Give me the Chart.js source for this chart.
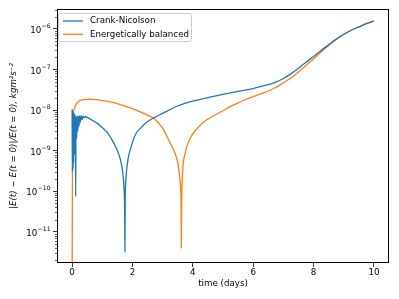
<!DOCTYPE html>
<html>
<head>
<meta charset="utf-8">
<script src="https://cdn.jsdelivr.net/npm/chart.js@4.4.1/dist/chart.umd.min.js"></script>
<style>
  html, body { margin: 0; padding: 0; background: #fff; }
  #wrap { width: 399px; height: 299px; }
</style>
</head>
<body>
<div id="wrap"><canvas id="chartEnergy"></canvas></div>
<script>
// series labels
const seriesNames = ["Crank-Nicolson", "Energetically balanced"];

// Crank-Nicolson: time (days) and relative energy error
const cnTime = [0.0, 0.01, 0.02, 0.03, 0.04, 0.05, 0.06, 0.07, 0.08, 0.09, 0.10, 0.11, 0.12, 0.13,
    0.15, 0.17, 0.19, 0.21, 0.23, 0.25, 0.27, 0.30, 0.33, 0.36, 0.40, 0.45, 0.5, 0.6, 0.8, 1.0,
    1.2, 1.4, 1.55, 1.65, 1.72, 1.74, 1.75, 1.76, 1.78, 1.85, 1.95, 2.1, 2.3, 2.5, 2.7, 3.0, 3.5, 4.0, 4.5,
    5.0, 5.5, 6.0, 6.25, 6.5, 6.75, 7.0, 7.25, 7.5, 7.75, 8.0, 8.25, 8.5, 8.75, 9.0, 9.25, 9.5, 9.75, 10.0];
const cnError = [1.05e-8, 3e-10, 1.0e-8, 3.5e-10, 9e-9, 5e-10, 8.5e-9, 8e-10, 8e-9, 1.2e-9, 7.5e-9, 2e-9, 7.4e-11, 7e-9,
    2e-9, 7.2e-9, 3e-9, 7e-9, 4e-9, 7.2e-9, 5e-9, 7.3e-9, 5.8e-9, 7.1e-9, 6.5e-9, 7.0e-9, 6.6e-9, 6.0e-9, 4.9e-9, 3.7e-9,
    2.6e-9, 1.45e-9, 8e-10, 4e-10, 1.2e-10, 4e-11, 3.2e-12, 6e-11, 1.8e-10, 5.9e-10, 1.2e-9, 2.5e-9, 3.8e-9, 5.2e-9, 6.4e-9, 8.3e-9, 1.26e-8, 1.66e-8, 2.04e-8,
    2.45e-8, 2.9e-8, 3.4e-8, 3.8e-8, 4.25e-8, 4.9e-8, 6.0e-8, 7.8e-8, 1.07e-7, 1.51e-7, 2.09e-7, 2.95e-7, 4.07e-7, 5.6e-7, 7.4e-7, 9.3e-7, 1.12e-6, 1.35e-6, 1.55e-6];

// Energetically balanced: time (days) and relative energy error
const ebTime = [0.0, 0.005, 0.01, 0.02, 0.04, 0.08, 0.15, 0.25, 0.4, 0.6, 0.8, 1.0, 1.5, 2.0, 2.5, 2.7,
    3.0, 3.25, 3.4, 3.5, 3.58, 3.61, 3.62, 3.63, 3.66, 3.75, 3.85, 4.0, 4.25, 4.5, 5.0, 5.25, 5.5, 5.75,
    6.0, 6.25, 6.5, 6.75, 7.0, 7.25, 7.5, 7.75, 8.0, 8.25, 8.5, 8.75, 9.0, 9.25, 9.5, 9.75, 10.0];
const ebError = [1e-13, 1e-11, 1e-10, 2e-9, 7e-9, 1.1e-8, 1.45e-8, 1.7e-8, 1.82e-8, 1.85e-8, 1.8e-8, 1.72e-8, 1.45e-8, 1.08e-8, 7.5e-9, 6.3e-9,
    3.6e-9, 1.55e-9, 9e-10, 5e-10, 1.7e-10, 5e-11, 4e-12, 5e-11, 2.7e-10, 9e-10, 1.6e-9, 2.6e-9, 4.3e-9, 6e-9, 9.6e-9, 1.23e-8, 1.5e-8, 1.82e-8,
    2.14e-8, 2.5e-8, 2.95e-8, 3.6e-8, 4.7e-8, 6.2e-8, 8.7e-8, 1.26e-7, 1.82e-7, 2.7e-7, 3.9e-7, 5.5e-7, 7.35e-7, 9.3e-7, 1.12e-6, 1.35e-6, 1.55e-6];

// axis ticks
const xTicks = [0, 2, 4, 6, 8, 10];
const yDecades = [-11, -10, -9, -8, -7, -6];

const FONT = "DejaVu Sans";
const colors = ["#1f77b4", "#ff7f0e"];

const pairs = (xs, ys) => xs.map((x, i) => ({ x: x, y: ys[i] }));

// frame, minor ticks, 10^n tick labels and legend box like matplotlib
const decorations = {
    id: "decorations",
    afterDraw(chart) {
        const ctx = chart.ctx;
        const a = chart.chartArea;
        const ys = chart.scales.y;
        ctx.save();
        // minor ticks on log axis
        ctx.strokeStyle = "#000";
        ctx.lineWidth = 0.6;
        for (let e = -12; e <= -6; e++) {
            for (let m = 2; m <= 9; m++) {
                const v = m * Math.pow(10, e);
                if (v < ys.min || v > ys.max) continue;
                const py = Math.round(ys.getPixelForValue(v)) + 0.5;
                ctx.beginPath();
                ctx.moveTo(a.left - 2, py);
                ctx.lineTo(a.left, py);
                ctx.stroke();
            }
        }
        // decade labels with raised exponent
        ctx.fillStyle = "#000";
        ctx.textAlign = "right";
        ctx.textBaseline = "middle";
        yDecades.forEach(e => {
            const py = ys.getPixelForValue(Math.pow(10, e));
            const exp = "\u2212" + Math.abs(e);
            ctx.font = "6.2px '" + FONT + "'";
            const ew = ctx.measureText(exp).width;
            const xr = a.left - 6.3;
            ctx.fillText(exp, xr, py - 2.5);
            ctx.font = "8.7px '" + FONT + "'";
            ctx.fillText("10", xr - ew - 0.3, py + 1.8);
        });

        // spines
        ctx.lineWidth = 1;
        ctx.strokeRect(Math.round(a.left) + 0.5, Math.round(a.top) + 0.5,
            Math.round(a.right - a.left) - 1, Math.round(a.bottom - a.top) - 1);

        // legend
        const lx = a.left + 1.5, ly = a.top + 4.5, lw = 133, lh = 28;
        ctx.beginPath();
        ctx.roundRect(lx, ly, lw, lh, 2);
        ctx.fillStyle = "rgba(255,255,255,0.8)";
        ctx.fill();
        ctx.strokeStyle = "#cccccc";
        ctx.lineWidth = 1;
        ctx.stroke();
        ctx.font = "8.7px '" + FONT + "'";
        ctx.textAlign = "left";
        ctx.textBaseline = "middle";
        ctx.fillStyle = "#000";
        chart.data.datasets.forEach((ds, i) => {
            const ry = ly + 7.5 + i * 13.3;
            ctx.strokeStyle = ds.borderColor;
            ctx.lineWidth = 1.3;
            ctx.beginPath();
            ctx.moveTo(lx + 4.5, ry);
            ctx.lineTo(lx + 24.5, ry);
            ctx.stroke();
            ctx.fillText(ds.label, lx + 31.5, ry);
        });
        ctx.restore();
    }
};

new Chart(document.getElementById("chartEnergy"), {
    type: "line",
    data: {
        datasets: [
            {
                label: seriesNames[0],
                data: pairs(cnTime, cnError),
                borderColor: colors[0],
                backgroundColor: colors[0],
                borderWidth: 1.3,
                pointRadius: 0,
                cubicInterpolationMode: "monotone"
            },
            {
                label: seriesNames[1],
                data: pairs(ebTime, ebError),
                borderColor: colors[1],
                backgroundColor: colors[1],
                borderWidth: 1.3,
                pointRadius: 0,
                cubicInterpolationMode: "monotone"
            }
        ]
    },
    plugins: [decorations],
    options: {
        responsive: true,
        maintainAspectRatio: false,
        animation: false,
        layout: { padding: { left: 0, right: 10, top: 9, bottom: 0 } },
        plugins: { legend: { display: false }, tooltip: { enabled: false } },
        scales: {
            x: {
                type: "linear",
                min: -0.5,
                max: 10.5,
                afterBuildTicks: s => { s.ticks = xTicks.map(v => ({ value: v })); },
                afterFit: s => { s.height = 36; },
                grid: { drawOnChartArea: false, tickLength: 4, color: "#000", tickWidth: 0.8 },
                border: { display: false },
                ticks: { padding: 1, color: "#000", font: { family: FONT, size: 8.7 }, maxRotation: 0 },
                title: { display: true, text: "time (days)", color: "#000",
                    font: { family: FONT, size: 8.7 }, padding: { top: 0, bottom: 10 } }
            },
            y: {
                type: "logarithmic",
                min: 1.7e-12,
                max: 3.1e-6,
                afterBuildTicks: s => { s.ticks = yDecades.map(e => ({ value: Math.pow(10, e) })); },
                afterFit: s => { s.width = 57; },
                grid: { drawOnChartArea: false, tickLength: 4, color: "#000", tickWidth: 0.8 },
                border: { display: false },
                ticks: {
                    padding: 2.5, color: "#000", autoSkip: false,
                    font: { family: FONT, size: 8.7 },
                    callback: () => ""
                },
                title: { display: true, text: "|E(t) \u2212 E(t = 0)|/E(t = 0), kgm\u00b2s\u207b\u00b2",
                    color: "#000", font: { family: FONT, size: 8.7, style: "italic" },
                    padding: { top: 9, bottom: 0 } }
            }
        }
    }
});
</script>
</body>
</html>
